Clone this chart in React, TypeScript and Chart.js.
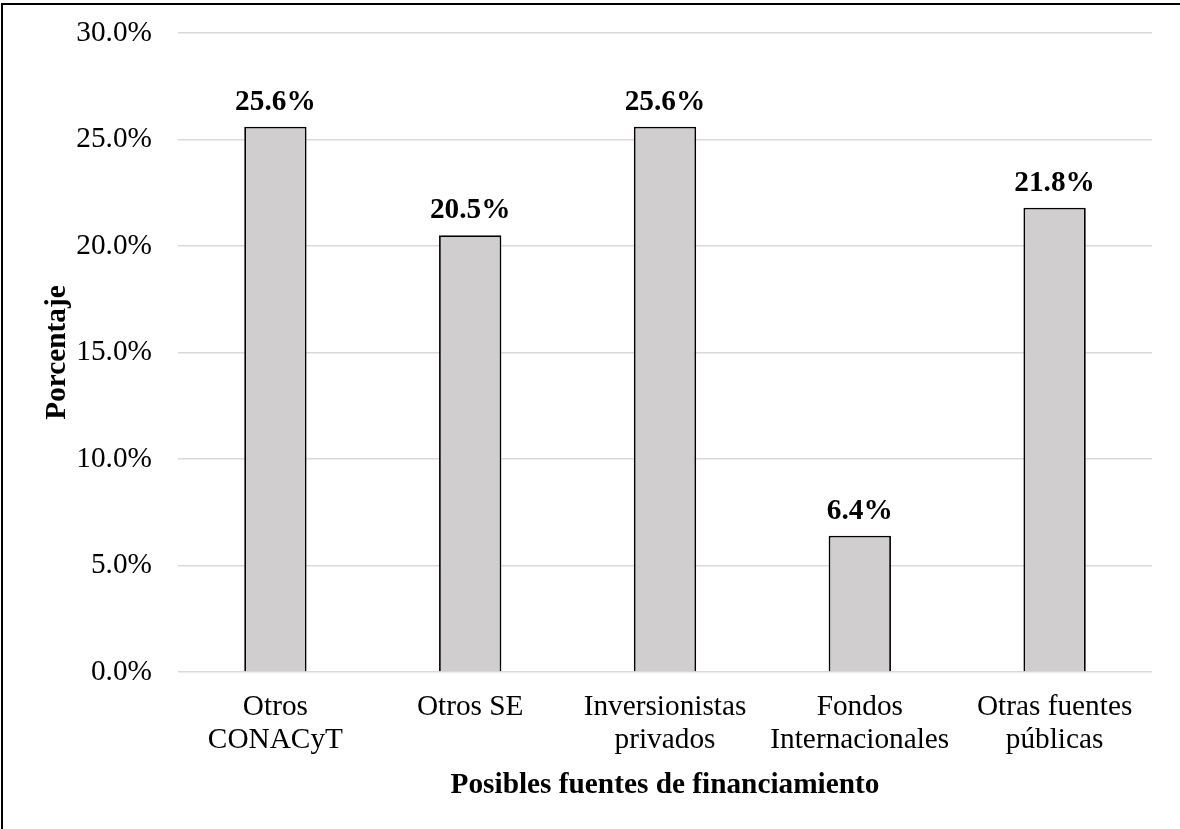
import React, { useEffect, useRef } from "react";
import { Chart, registerables } from "chart.js";

Chart.register(...registerables);

const categories: string[][] = [
  ["Otros", "CONACyT"],
  ["Otros SE"],
  ["Inversionistas", "privados"],
  ["Fondos", "Internacionales"],
  ["Otras fuentes", "públicas"],
];
const values: number[] = [25.6, 20.5, 25.6, 6.4, 21.8];
const yTicks: number[] = [0, 5, 10, 15, 20, 25, 30];
const yTitle = "Porcentaje";
const xTitle = "Posibles fuentes de financiamiento";

const FONT = "'Liberation Serif', 'Times New Roman', serif";
const FS = 29.3;

const dataLabels = {
  id: "dataLabels",
  afterDatasetsDraw(chart: any) {
    const ctx = chart.ctx;
    const meta = chart.getDatasetMeta(0);
    ctx.save();
    ctx.font = `bold ${FS}px ${FONT}`;
    ctx.fillStyle = "#000";
    ctx.textAlign = "center";
    ctx.textBaseline = "alphabetic";
    meta.data.forEach((bar: any, i: number) => {
      const v = chart.data.datasets[0].data[i] as number;
      ctx.fillText(v.toFixed(1) + "%", bar.x, bar.y - 17);
    });
    ctx.restore();
  },
};

export default function App() {
  const ref = useRef<HTMLCanvasElement | null>(null);
  useEffect(() => {
    if (!ref.current) return;
    Chart.defaults.color = "#000";
    const chart = new Chart(ref.current, {
      type: "bar",
      data: {
        labels: categories,
        datasets: [
          {
            data: values,
            backgroundColor: "#d0cece",
            borderColor: "#000",
            borderWidth: 1.8,
            categoryPercentage: 1,
            barPercentage: 0.32,
          },
        ],
      },
      options: {
        animation: false,
        responsive: false,
        devicePixelRatio: 1,
        layout: { padding: { top: 33, right: 28, left: 0, bottom: 0 } },
        plugins: { legend: { display: false }, tooltip: { enabled: false } },
        scales: {
          x: {
            grid: { display: false, drawTicks: false },
            border: { display: false },
            ticks: {
              padding: 18.5,
              font: { family: FONT, size: FS, lineHeight: 1.126 },
              color: "#000",
              maxRotation: 0,
              autoSkip: false,
            },
            title: {
              display: true,
              text: xTitle,
              font: { family: FONT, size: FS, weight: "bold" },
              color: "#000",
              padding: { top: 0, bottom: 26.4 },
            },
            afterFit: (s: any) => {
              s.height = 157;
              s.paddingLeft = 0;
              s.paddingRight = 0;
            },
          },
          y: {
            min: 0,
            max: 30,
            afterBuildTicks: (s: any) => {
              s.ticks = yTicks.map((v) => ({ value: v }));
            },
            grid: { color: "#d9d9d9", lineWidth: 1.5, drawTicks: false },
            border: { display: false },
            ticks: {
              padding: 26,
              font: { family: FONT, size: FS },
              color: "#000",
              callback: (v: any) => Number(v).toFixed(1) + "%",
            },
            title: {
              display: true,
              text: yTitle,
              font: { family: FONT, size: FS, weight: "bold" },
              color: "#000",
              padding: { top: 39.5, bottom: 0 },
            },
            afterFit: (s: any) => {
              s.width = 178;
              s.paddingTop = 0;
              s.paddingBottom = 0;
            },
          },
        },
      },
      plugins: [dataLabels],
    });
    return () => chart.destroy();
  }, []);

  return (
    <div
      style={{
        position: "fixed",
        left: 0,
        top: 0,
        width: 1180,
        height: 829,
        overflow: "hidden",
        background: "#fff",
      }}
    >
      <div
        style={{
          position: "absolute",
          left: 1,
          top: 3,
          width: 1300,
          height: 1000,
          border: "2px solid #000",
          boxSizing: "border-box",
        }}
      />
      <canvas
        ref={ref}
        width={1180}
        height={829}
        style={{ position: "absolute", left: 0, top: 0, width: 1180, height: 829 }}
      />
    </div>
  );
}
